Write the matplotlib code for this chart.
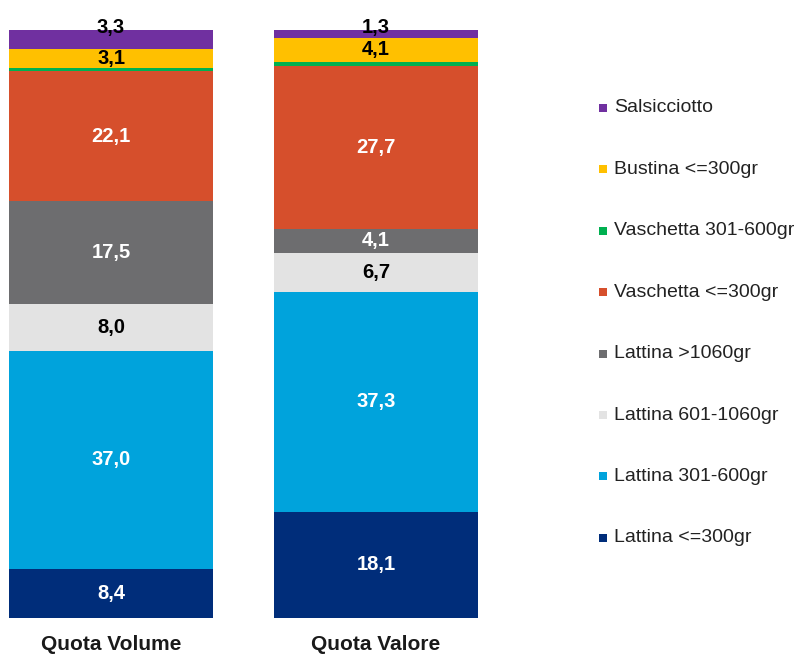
import matplotlib
matplotlib.use("Agg")
import matplotlib.pyplot as plt
from matplotlib.patches import Rectangle

plt.rcParams['font.family'] = ['Liberation Sans', 'DejaVu Sans']

# Shares (%) per pack format, bottom to top
bars = ["Quota Volume", "Quota Valore"]
segments = ["Lattina <=300gr", "Lattina 301-600gr", "Lattina 601-1060gr",
            "Lattina >1060gr", "Vaschetta <=300gr", "Vaschetta 301-600gr",
            "Bustina <=300gr", "Salsicciotto"]
volume = [8.4, 37.0, 8.0, 17.5, 22.1, 0.6, 3.1, 3.3]
valore = [18.1, 37.3, 6.7, 4.1, 27.7, 0.7, 4.1, 1.3]
colors = ["#002D7A", "#00A3DC", "#E3E3E3", "#6D6D6F",
          "#D64F2C", "#00B050", "#FFC000", "#7030A0"]
text_colors = ["white", "white", "black", "white", "white", None, "black", "black"]

fig = plt.figure(figsize=(8.1, 6.57), dpi=100)
ax = fig.add_axes([9 / 810, 1 - 618 / 657, (478 - 9) / 810, (618 - 30) / 657])
width = 0.77
ax.set_xlim(-width / 2, 1 + width / 2)
ax.set_ylim(0, 100)

for i, vals in enumerate([volume, valore]):
    bottom = 0
    for j, v in enumerate(vals):
        ax.bar(i, v, width=width, bottom=bottom, color=colors[j],
               edgecolor="none", linewidth=0)
        if text_colors[j] is not None:
            if j == len(vals) - 1:
                y = bottom + v + 0.5
            else:
                y = bottom + v / 2
            ax.text(i, y, f"{v:.1f}".replace(".", ","), ha="center",
                    va="center", fontsize=14.5, fontweight="bold",
                    color=text_colors[j], clip_on=False)
        bottom += v

ax.axis("off")

for i, name in enumerate(bars):
    ax.annotate(name, xy=(i, 0), xycoords="data", xytext=(0, -19),
                textcoords="offset points", ha="center", va="center",
                fontsize=15, fontweight="bold", color="#1a1a1a",
                annotation_clip=False)

# Legend, top entry first
legend_top = 108
legend_step = 61.4
for k, j in enumerate(range(len(segments) - 1, -1, -1)):
    ypx = legend_top + k * legend_step
    yf = 1 - ypx / 657
    fig.patches.append(Rectangle((599 / 810, yf - 4 / 657), 8 / 810, 8 / 657,
                                 transform=fig.transFigure,
                                 facecolor=colors[j], edgecolor="none"))
    fig.text(614 / 810, yf, segments[j], ha="left", va="center",
             fontsize=14, color="#222222")

fig.savefig("out.png", dpi=100, facecolor="white")
